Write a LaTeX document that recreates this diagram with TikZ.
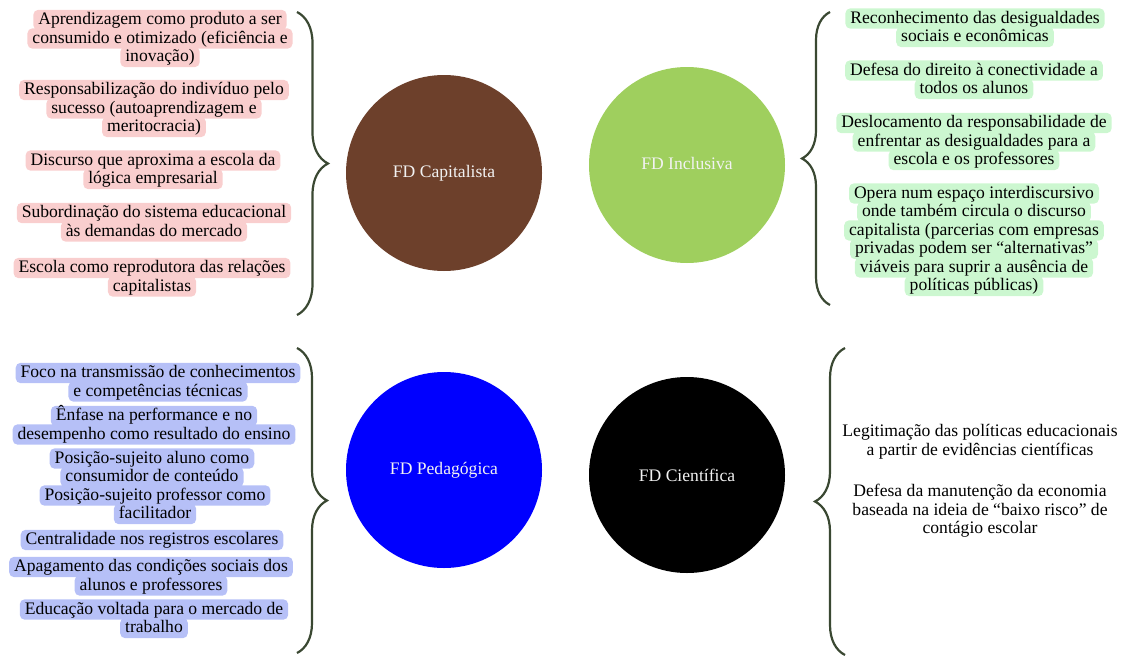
\documentclass[tikz,border=0pt]{standalone}
\usepackage{fontspec}
\setmainfont{Liberation Serif}
\usetikzlibrary{decorations.pathreplacing}
\definecolor{pinkc}{RGB}{249,206,206}
\definecolor{greenc}{RGB}{204,247,208}
\definecolor{bluec}{RGB}{182,192,247}
\definecolor{brownc}{RGB}{109,64,43}
\definecolor{limec}{RGB}{159,207,94}
\definecolor{bracec}{RGB}{58,72,50}
\definecolor{ltext}{RGB}{242,242,242}
\begin{document}
\begin{tikzpicture}[x=1pt,y=-1pt,
  every node/.style={font=\fontsize{17.6}{18.6}\selectfont},
  hl/.style={rounded corners=5pt, inner xsep=5pt, inner ysep=1.2pt, text height=13.5pt, text depth=4.5pt},
  pk/.style={hl, fill=pinkc},
  gn/.style={hl, fill=greenc},
  bl/.style={hl, fill=bluec},
  pl/.style={inner sep=0pt, text height=13.5pt, text depth=4.5pt},
  fd/.style={circle, minimum size=196pt, inner sep=0pt, text=ltext},
  brc/.style={draw=bracec, line width=2.2pt, decorate, decoration={brace, amplitude=#1}}
]
\useasboundingbox (0,0) rectangle (1126,656);

% circles
\node[fd, fill=brownc] (cap) at (444,173) {FD Capitalista};
\node[fd, fill=limec] (inc) at (687,165) {};
\node (inct) at (687,163) [text=ltext] {FD Inclusiva};
\node[fd, fill=blue] (ped) at (444,470) {FD Pedagógica};
\node[fd, fill=black] (cie) at (687,475) {FD Científica};

% braces
\coordinate (b1s) at (297,12);  \coordinate (b1e) at (297,315);
\coordinate (b2s) at (830,305); \coordinate (b2e) at (830,12);
\coordinate (b3s) at (297,348); \coordinate (b3e) at (297,653);
\coordinate (b4s) at (845,655); \coordinate (b4e) at (845,348);
\draw[brc=31pt] (b1s) -- (b1e);
\draw[brc=28pt] (b2s) -- (b2e);
\draw[brc=30pt] (b3s) -- (b3e);
\draw[brc=30pt] (b4s) -- (b4e);

% pink (FD Capitalista)
\node[pk] (p11) at (160,20)   {Aprendizagem como produto a ser};
\node[pk] (p12) at (160,38.5) {consumido e otimizado (eficiência e};
\node[pk] (p13) at (160,57)   {inovação)};
\node[pk] (p21) at (154,90)   {Responsabilização do indivíduo pelo};
\node[pk] (p22) at (154,108.5){sucesso (autoaprendizagem e};
\node[pk] (p23) at (154,127)  {meritocracia)};
\node[pk] (p31) at (153,160.5){Discurso que aproxima a escola da};
\node[pk] (p32) at (153,179)  {lógica empresarial};
\node[pk] (p41) at (154,213)  {Subordinação do sistema educacional};
\node[pk] (p42) at (154,231.5){às demandas do mercado};
\node[pk] (p51) at (152,268)  {Escola como reprodutora das relações};
\node[pk] (p52) at (152,286.5){capitalistas};

% green (FD Inclusiva)
\node[gn] (g11) at (975,18.5)  {Reconhecimento das desigualdades};
\node[gn] (g12) at (975,37)    {sociais e econômicas};
\node[gn] (g21) at (974,70.5)  {Defesa do direito à conectividade a};
\node[gn] (g22) at (974,89)    {todos os alunos};
\node[gn] (g31) at (974,123)   {Deslocamento da responsabilidade de};
\node[gn] (g32) at (974,141.5) {enfrentar as desigualdades para a};
\node[gn] (g33) at (974,160)   {escola e os professores};
\node[gn] (g41) at (974,193.5) {Opera num espaço interdiscursivo};
\node[gn] (g42) at (974,212)   {onde também circula o discurso};
\node[gn] (g43) at (974,230.5) {capitalista (parcerias com empresas};
\node[gn] (g44) at (974,249)   {privadas podem ser “alternativas”};
\node[gn] (g45) at (974,267.5) {viáveis para suprir a ausência de};
\node[gn] (g46) at (974,286)   {políticas públicas)};

% blue (FD Pedagógica)
\node[bl] (u11) at (158,373)   {Foco na transmissão de conhecimentos};
\node[bl] (u12) at (158,391.5) {e competências técnicas};
\node[bl] (u21) at (154,416)   {Ênfase na performance e no};
\node[bl] (u22) at (154,434.5) {desempenho como resultado do ensino};
\node[bl] (u31) at (152,458.5) {Posição-sujeito aluno como};
\node[bl] (u32) at (152,477)   {consumidor de conteúdo};
\node[bl] (u41) at (155,495.5) {Posição-sujeito professor como};
\node[bl] (u42) at (155,514)   {facilitador};
\node[bl] (u51) at (152,540)   {Centralidade nos registros escolares};
\node[bl] (u61) at (151,567)   {Apagamento das condições sociais dos};
\node[bl] (u62) at (151,585.5) {alunos e professores};
\node[bl] (u71) at (154,609.5) {Educação voltada para o mercado de};
\node[bl] (u72) at (154,628)   {trabalho};

% plain (FD Científica)
\node[pl] (c11) at (980,432)   {Legitimação das políticas educacionais};
\node[pl] (c12) at (980,450.5) {a partir de evidências científicas};
\node[pl] (c21) at (980,492)   {Defesa da manutenção da economia};
\node[pl] (c22) at (980,510.5) {baseada na ideia de “baixo risco” de};
\node[pl] (c23) at (980,529)   {contágio escolar};
\end{tikzpicture}
\end{document}
